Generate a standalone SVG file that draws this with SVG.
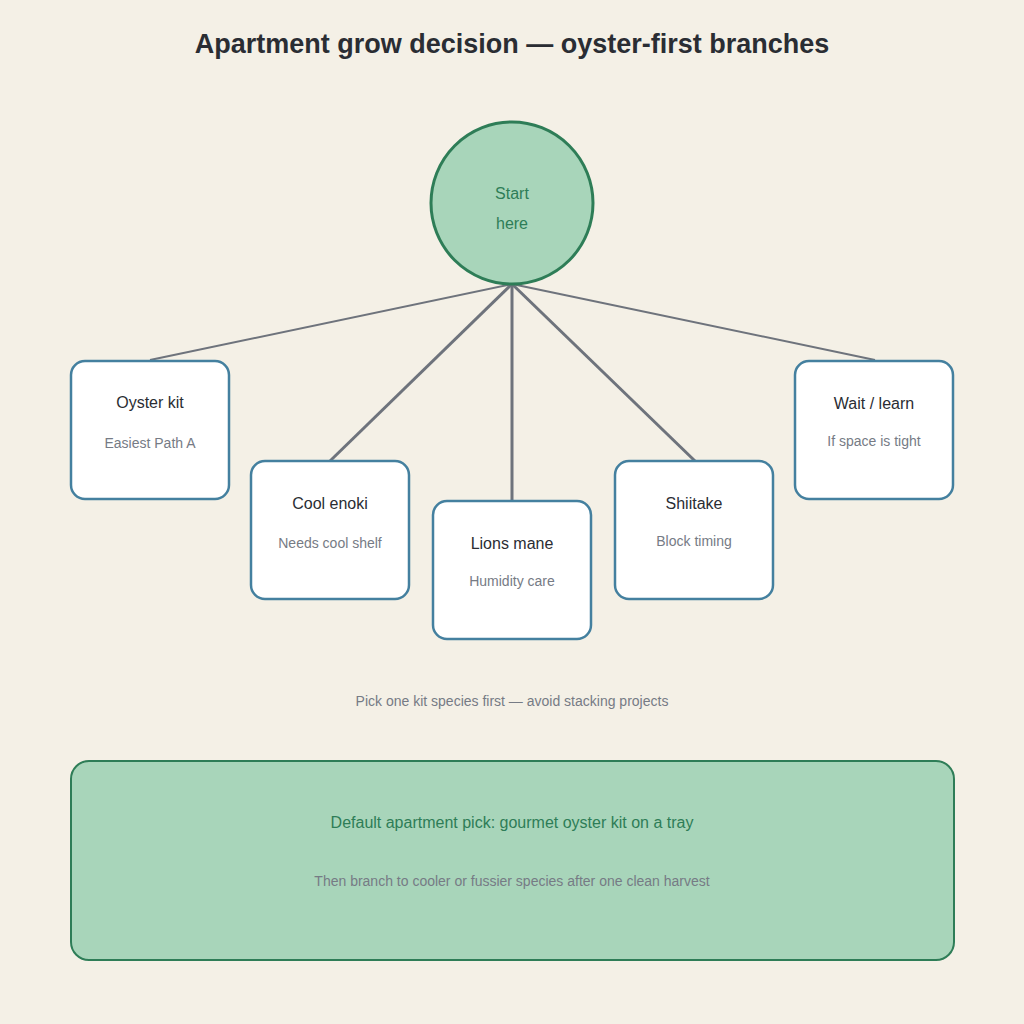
<svg xmlns="http://www.w3.org/2000/svg" width="1024" height="1024" viewBox="0 0 1024 1024">
<style>
.box{fill:#fff;stroke:#44809f;stroke-width:2.5}
.t{font-family:"Liberation Sans",Arial,sans-serif;font-size:16px;fill:#2a2d33;text-anchor:middle}
.s{font-family:"Liberation Sans",Arial,sans-serif;font-size:14px;fill:#767b85;text-anchor:middle}
.e{stroke:#6e737c;fill:none}
</style>
<rect width="1024" height="1024" fill="#f4f0e6"/>
<text x="512" y="53" class="t" style="font-size:27px;font-weight:bold">Apartment grow decision — oyster-first branches</text>
<g id="connectors">
<line class="e" stroke-width="2" x1="512" y1="284" x2="150" y2="360"/>
<line class="e" stroke-width="3" x1="512" y1="284" x2="330" y2="461"/>
<line class="e" stroke-width="3" x1="512" y1="284" x2="512" y2="501"/>
<line class="e" stroke-width="3" x1="512" y1="284" x2="695" y2="461"/>
<line class="e" stroke-width="2" x1="512" y1="284" x2="875" y2="360"/>
</g>
<g id="start"><circle cx="512" cy="203" r="81" fill="#a8d5ba" stroke="#2e7d57" stroke-width="3"/>
<text x="512" y="199" class="t" style="fill:#2e7d57">Start</text><text x="512" y="229" class="t" style="fill:#2e7d57">here</text></g>
<g id="oyster"><rect class="box" x="71" y="361" width="158" height="138" rx="14"/><text x="150" y="408" class="t">Oyster kit</text><text x="150" y="448" class="s">Easiest Path A</text></g>
<g id="enoki"><rect class="box" x="251" y="461" width="158" height="138" rx="14"/><text x="330" y="509" class="t">Cool enoki</text><text x="330" y="548" class="s">Needs cool shelf</text></g>
<g id="lions"><rect class="box" x="433" y="501" width="158" height="138" rx="14"/><text x="512" y="549" class="t">Lions mane</text><text x="512" y="586" class="s">Humidity care</text></g>
<g id="shiitake"><rect class="box" x="615" y="461" width="158" height="138" rx="14"/><text x="694" y="509" class="t">Shiitake</text><text x="694" y="546" class="s">Block timing</text></g>
<g id="wait"><rect class="box" x="795" y="361" width="158" height="138" rx="14"/><text x="874" y="409" class="t">Wait / learn</text><text x="874" y="446" class="s">If space is tight</text></g>
<text x="512" y="706" class="s">Pick one kit species first — avoid stacking projects</text>
<g id="default"><rect x="71" y="761" width="883" height="199" rx="18" fill="#a8d5ba" stroke="#2e7d57" stroke-width="2"/>
<text x="512" y="828" class="t" style="fill:#2e7d57">Default apartment pick: gourmet oyster kit on a tray</text>
<text x="512" y="886" class="s">Then branch to cooler or fussier species after one clean harvest</text></g>
</svg>
